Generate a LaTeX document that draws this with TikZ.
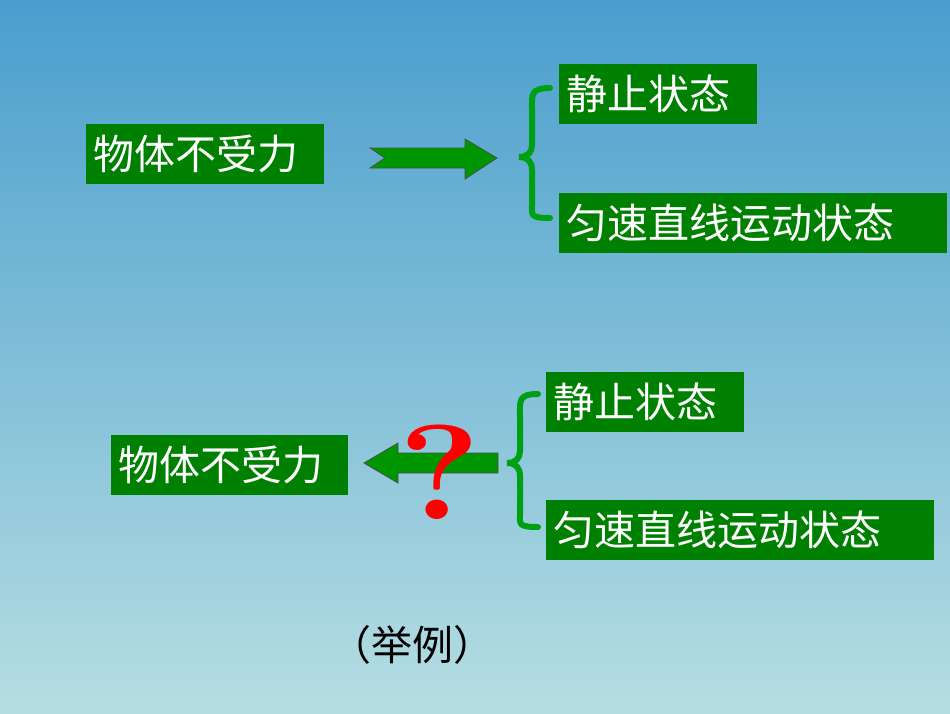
\documentclass[tikz,border=0pt]{standalone}
\usepackage{fontspec}
\newfontfamily\cjk{Noto Sans CJK SC}
\definecolor{gbox}{RGB}{0,128,0}
\definecolor{garrow}{RGB}{0,150,0}
\definecolor{gbrace}{RGB}{0,160,20}
\begin{document}
\begin{tikzpicture}[x=1pt,y=-1pt,
  lbl/.style={fill=gbox,text=white,font=\cjk\fontsize{41}{44}\selectfont,inner xsep=7pt,inner ysep=0pt,anchor=west,minimum height=60pt,align=left},
  brc/.style={draw=gbrace,line width=6pt,line cap=round}]
\shade[top color={rgb,255:red,74;green,158;blue,206},bottom color={rgb,255:red,182;green,222;blue,226}] (0,0) rectangle (950,713);
\useasboundingbox (0,0) rectangle (950,713);
% top
\node[lbl,text width=224pt] (a1) at (86,154) {物体不受力};
\node[lbl,text width=184pt] (b1) at (559,94) {静止状态};
\node[lbl,text width=374pt] (c1) at (559,223) {匀速直线运动状态};
\draw[fill=garrow,draw=black!70,line width=0.8pt] (370,148) -- (465,148) -- (465,139) -- (497,158) -- (465,179) -- (465,168) -- (370,168) -- (385,158) -- cycle;
\draw[brc] (550,88) .. controls (530,88) and (532,95) .. (532,110) -- (532,145) .. controls (532,152) and (528,157) .. (519,157) .. controls (528,157) and (532,162) .. (532,170) -- (532,205) .. controls (532,215) and (530,218) .. (550,218);
% bottom
\node[lbl,text width=223pt] (a2) at (111,465) {物体不受力};
\node[lbl,text width=184pt] (b2) at (546,402) {静止状态};
\node[lbl,text width=374pt] (c2) at (546,530) {匀速直线运动状态};
\draw[fill=garrow,draw=black!70,line width=0.8pt] (498,453) -- (398,453) -- (398,443) -- (364,463) -- (398,483) -- (398,473) -- (498,473) -- cycle;
\draw[brc] (538,394) .. controls (518,394) and (520,401) .. (520,416) -- (520,451) .. controls (520,458) and (516,463) .. (507,463) .. controls (516,463) and (520,468) .. (520,476) -- (520,514) .. controls (520,524) and (518,527) .. (538,527);
\node[text=red,font=\fontsize{135}{135}\selectfont\bfseries,inner sep=0pt,xscale=1.15] (q) at (440,472) {?};
\node[font=\cjk\fontsize{41}{44}\selectfont,inner sep=0pt] (ex) at (412,645) {（举例）};
\end{tikzpicture}
\end{document}
